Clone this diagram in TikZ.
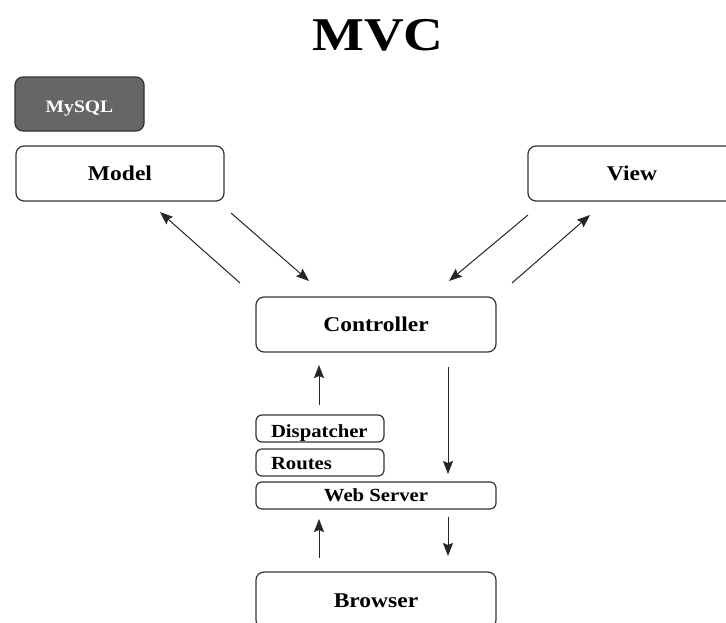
\documentclass[tikz,border=0pt]{standalone}
\usepackage{fontspec}
\newfontfamily\bxfont[FakeStretch=1.12]{Liberation Serif}
\newfontfamily\ttlfont[FakeStretch=1.17]{Liberation Serif}
\usetikzlibrary{arrows.meta}
\definecolor{edge}{HTML}{333333}
\definecolor{dbfill}{HTML}{666666}
\tikzset{
  box/.style={draw=edge, line width=1.2pt, rounded corners=8pt, fill=white,
    font=\bxfont\bfseries\fontsize{21}{21}\selectfont, inner sep=0pt,
    text height=14pt, text depth=0pt},
  smallbox/.style={draw=edge, line width=1.2pt, rounded corners=6pt, fill=white,
    font=\bxfont\bfseries\fontsize{18.5}{18.5}\selectfont, inner sep=0pt,
    text height=12pt, text depth=0pt},
  arr/.style={draw=black!85, line width=1pt, -{Stealth[length=13pt,width=10pt,inset=2pt]}}
}
\begin{document}
\begin{tikzpicture}[x=1pt,y=-1pt]
\clip (0,0) rectangle (726,622);
\fill[white] (0,0) rectangle (726,622);
\node[font=\ttlfont\bfseries\fontsize{47}{47}\selectfont, inner sep=0pt, anchor=base] (title) at (378,50) {MVC};
\node[box, fill=dbfill, text=white, minimum width=129pt, minimum height=54pt,
  font=\bxfont\bfseries\fontsize{17.5}{17.5}\selectfont, text height=17pt] (mysql) at (79.5,104) {MySQL};
\node[box, minimum width=208pt, minimum height=55pt] (model) at (120,173.5) {Model};
\node[box, minimum width=208pt, minimum height=55pt] (view) at (632,173.5) {View};
\node[box, minimum width=240pt, minimum height=55pt] (ctrl) at (376,324.5) {Controller};
\node[smallbox, minimum height=27pt, text width=98pt, inner xsep=15pt, align=left, text height=17pt] (disp) at (320,428.5) {Dispatcher};
\node[smallbox, minimum height=27pt, text width=98pt, inner xsep=15pt, align=left, text height=13pt] (routes) at (320,462.5) {Routes};
\node[smallbox, minimum width=240pt, minimum height=27pt] (web) at (376,495.5) {Web Server};
\node[box, minimum width=240pt, minimum height=56pt] (browser) at (376,600) {Browser};
% arrow end points
\coordinate (a1s) at (240,283); \coordinate (a1e) at (160,212);
\coordinate (a2s) at (231,213); \coordinate (a2e) at (309,281);
\coordinate (a3s) at (528,215); \coordinate (a3e) at (449,281);
\coordinate (a4s) at (512,283); \coordinate (a4e) at (590,215);
\coordinate (a5s) at (319,405); \coordinate (a5e) at (319,365);
\coordinate (a6s) at (448,367); \coordinate (a6e) at (448,474);
\coordinate (a7s) at (319,558); \coordinate (a7e) at (319,519);
\coordinate (a8s) at (448,517); \coordinate (a8e) at (448,556);
\draw[arr] (a1s) -- (a1e);
\draw[arr] (a2s) -- (a2e);
\draw[arr] (a3s) -- (a3e);
\draw[arr] (a4s) -- (a4e);
\draw[arr] (a5s) -- (a5e);
\draw[arr] (a6s) -- (a6e);
\draw[arr] (a7s) -- (a7e);
\draw[arr] (a8s) -- (a8e);
\end{tikzpicture}
\end{document}
